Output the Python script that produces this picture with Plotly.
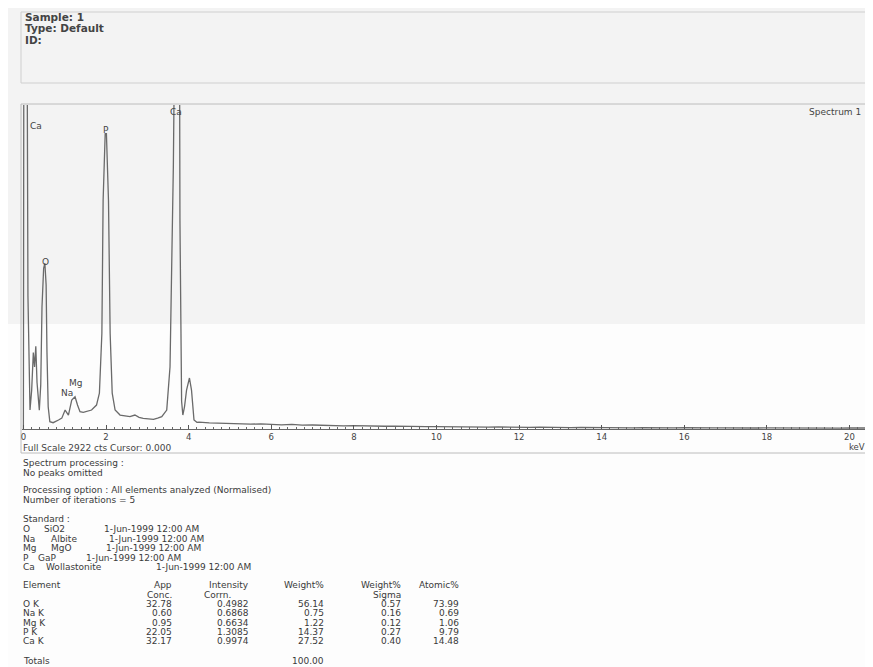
import plotly.graph_objects as go

# ---------------- data ----------------
energy_kev = [0.00, 0.01, 0.09, 0.11, 0.16, 0.20, 0.24, 0.27, 0.30, 0.33, 0.385,
              0.42, 0.45, 0.49, 0.52, 0.55, 0.57, 0.60, 0.64, 0.72, 0.85, 0.93,
              1.01, 1.05, 1.09, 1.17, 1.25, 1.31, 1.37, 1.45, 1.53, 1.65, 1.77,
              1.84, 1.90, 1.93, 1.98, 2.01, 2.06, 2.10, 2.15, 2.22, 2.34, 2.46,
              2.58, 2.70, 2.80, 2.90, 3.02, 3.15, 3.25, 3.35, 3.47, 3.55, 3.59,
              3.63, 3.66, 3.78, 3.79, 3.81, 3.83, 3.86, 3.90, 3.95, 4.02, 4.07,
              4.13, 4.20,
              4.25, 4.50, 4.75, 5.00, 5.25, 5.50, 5.75, 6.00, 6.25, 6.50, 6.75,
              7.00, 7.25, 7.50, 7.75, 8.00, 8.25, 8.50, 8.75, 9.00, 9.25, 9.50,
              9.75, 10.00, 10.25, 10.50, 10.75, 11.00, 11.25, 11.50, 11.75, 12.00,
              12.25, 12.50, 12.75, 13.00, 13.25, 13.50, 13.75, 14.00, 14.25, 14.50,
              14.75, 15.00, 15.25, 15.50, 15.75, 16.00, 16.25, 16.50, 16.75, 17.00,
              17.25, 17.50, 17.75, 18.00, 18.25, 18.50, 18.75, 19.00, 19.25, 19.50,
              19.75, 20.00, 20.25, 20.40]
counts = [0, 3500, 3500, 1200, 171, 350, 690, 560, 745, 420, 170,
          400, 1100, 1450, 1495, 1300, 700, 200, 66, 57, 81, 98,
          171, 150, 126, 261, 291, 216, 156, 150, 156, 171, 216,
          324, 864, 2061, 2664, 2664, 2061, 864, 324, 171, 126, 118,
          111, 126, 105, 96, 92, 87, 98, 111, 171, 561, 1461,
          2361, 3500, 3500, 1880, 900, 250, 126, 200, 350, 460, 350,
          81, 60,
          62, 55, 52, 48, 50, 44, 46, 40, 38, 41, 35,
          36, 32, 34, 29, 30, 27, 29, 25, 26, 23, 25,
          21, 22, 20, 22, 19, 20, 17, 19, 16, 18,
          15, 17, 14, 16, 13, 15, 13, 14, 12, 13,
          11, 13, 11, 12, 10, 12, 10, 11, 10, 11,
          9, 11, 9, 10, 9, 10, 8, 10, 9, 9,
          8, 9, 8, 9]

full_scale_cts = 2922
x_ticks = [0, 2, 4, 6, 8, 10, 12, 14, 16, 18, 20]

peak_labels = ["Ca", "O", "Na", "Mg", "P", "Ca"]
peak_label_kev = [0.31, 0.53, 1.05, 1.25, 2.01, 3.70]
peak_label_cts = [2736, 1503, 324, 414, 2700, 2862]

header_lines = ["Sample: 1", "Type: Default", "ID:"]
info_lines = ["Spectrum processing :", "No peaks omitted",
              "Processing option : All elements analyzed (Normalised)",
              "Number of iterations = 5", "Standard :"]
std_elements = ["O", "Na", "Mg", "P", "Ca"]
std_compounds = ["SiO2", "Albite", "MgO", "GaP", "Wollastonite"]
std_date = "1-Jun-1999 12:00 AM"

elements = ["O K", "Na K", "Mg K", "P K", "Ca K"]
app_conc = [32.78, 0.60, 0.95, 22.05, 32.17]
intensity_corrn = [0.4982, 0.6868, 0.6634, 1.3085, 0.9974]
weight_pct = [56.14, 0.75, 1.22, 14.37, 27.52]
weight_sigma = [0.57, 0.16, 0.12, 0.27, 0.40]
atomic_pct = [73.99, 0.69, 1.06, 9.79, 14.48]
weight_total = 100.00

# ---------------- layout helpers ----------------
OFF = 8                     # page margin of the browser body
W, H = 873 - OFF, 667 - OFF
FONT = "DejaVu Sans"
TXT = "#3a3a3a"
BODY = 9


def px(p):
    return (p - OFF) / W


def py(p):
    return 1 - (p - OFF) / H


annotations = []


def add_text(text, x, y, size=BODY, anchor="left", color=TXT, weight="normal"):
    annotations.append(dict(text=text, x=px(x), y=py(y), xref="paper", yref="paper",
                            xanchor=anchor, yanchor="middle", showarrow=False,
                            borderpad=0,
                            font=dict(family=FONT, size=size, color=color, weight=weight)))


fig = go.Figure()
fig.add_trace(go.Scatter(x=energy_kev, y=counts, mode="lines",
                         line=dict(color="#6a6a6a", width=1.3),
                         hoverinfo="skip", showlegend=False))

# peak labels in data coordinates
for lab, ex, cy in zip(peak_labels, peak_label_kev, peak_label_cts):
    annotations.append(dict(text=lab, x=ex, y=cy, xref="x", yref="y", showarrow=False,
                            xanchor="center", yanchor="middle", borderpad=0,
                            font=dict(family=FONT, size=9, color="#444")))

# header box text
for t, yy in zip(header_lines, [17, 28.5, 40]):
    add_text(t, 24, yy, size=10.5, color="#444", weight="bold")

add_text("Spectrum 1", 862, 112, size=9, anchor="right", color="#444")
add_text("Full Scale %d cts Cursor: 0.000" % full_scale_cts, 22, 447.5, size=9, color="#444")
add_text("keV", 866, 446.5, size=8.5, anchor="right", color="#444")

# info text
for t, yy in zip(info_lines, [463, 473, 490, 500, 519]):
    add_text(t, 22, yy)

comp_x = [43, 50, 50, 37, 45]
date_x = [103, 108, 105, 85, 155]
for i, (el, cp) in enumerate(zip(std_elements, std_compounds)):
    yy = 529 + i * 9.5
    add_text(el, 22, yy)
    add_text(cp, comp_x[i], yy)
    add_text(std_date, date_x[i], yy)

# table
col_right = [173, 250, 325, 402, 460]
add_text("Element", 22, 585)
for t, xr in zip(["App", "Intensity", "Weight%", "Weight%", "Atomic%"], col_right):
    add_text(t, xr, 585, anchor="right")
add_text("Conc.", 173, 594.5, anchor="right")
add_text("Corrn.", 232, 594.5, anchor="right")
add_text("Sigma", 402, 594.5, anchor="right")

row_y = [604, 613.3, 622.6, 632, 641.3]
for i, el in enumerate(elements):
    yy = row_y[i]
    add_text(el, 22, yy)
    vals = ["%.2f" % app_conc[i], "%.4f" % intensity_corrn[i], "%.2f" % weight_pct[i],
            "%.2f" % weight_sigma[i], "%.2f" % atomic_pct[i]]
    for v, xr in zip(vals, col_right):
        add_text(v, xr, yy, anchor="right")

add_text("Totals", 22, 661)
add_text("%.2f" % weight_total, 325, 661, anchor="right")

shapes = [
    # light grey upper page tint
    dict(type="rect", xref="paper", yref="paper", x0=px(0), x1=px(880), y0=py(324), y1=py(0),
         fillcolor="#f3f3f3", line=dict(width=0), layer="below"),
    # header box
    dict(type="rect", xref="paper", yref="paper", x0=px(21), x1=px(890), y0=py(83), y1=py(12),
         fillcolor="rgba(0,0,0,0)", line=dict(color="#cfcfcf", width=1), layer="below"),
    # spectrum frame
    dict(type="rect", xref="paper", yref="paper", x0=px(21), x1=px(868), y0=py(453), y1=py(104),
         fillcolor="rgba(0,0,0,0)", line=dict(color="#bcbcbc", width=1), layer="below"),
]

fig.update_layout(
    width=W, height=H, autosize=False,
    margin=dict(l=0, r=0, t=0, b=0, pad=0),
    paper_bgcolor="#fdfdfd", plot_bgcolor="rgba(0,0,0,0)",
    showlegend=False,
    annotations=annotations, shapes=shapes,
    xaxis=dict(domain=[px(22), px(866)], range=[-0.034, 20.40],
               tickvals=x_ticks, ticktext=[str(v) for v in x_ticks],
               ticks="inside", ticklen=4, tickcolor="#555", tickwidth=1,
               minor=dict(dtick=0.2, ticks="inside", ticklen=2, tickcolor="#666"),
               showline=True, linecolor="#666", linewidth=1, mirror=False,
               showgrid=False, zeroline=False, fixedrange=True,
               tickfont=dict(family=FONT, size=8.5, color="#444")),
    yaxis=dict(domain=[py(429), py(105)], range=[0, full_scale_cts],
               visible=False, showgrid=False, zeroline=False, fixedrange=True),
)

fig.write_html("out.html")
